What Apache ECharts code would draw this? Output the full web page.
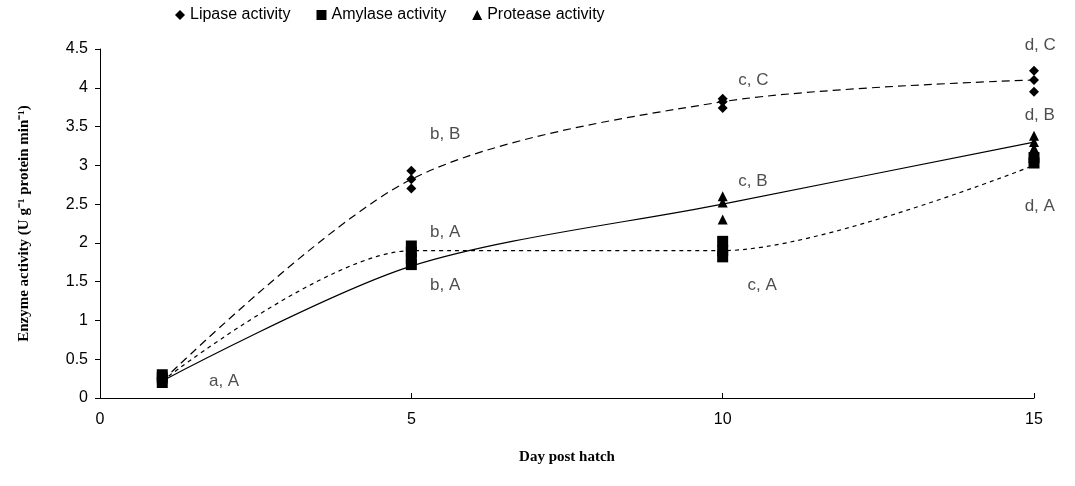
<!DOCTYPE html>
<html>
<head><meta charset="utf-8"></head>
<body style="margin:0">
<div id="container" style="width:1075px;height:486px"></div>
<script src="https://cdn.jsdelivr.net/npm/echarts@6/dist/echarts.min.js"></script>
<script>
var days = [1, 5, 10, 15];

// trend values (means) per day
var lipaseMean = [0.22, 2.82, 3.82, 4.1];
var amylaseMean = [0.22, 1.9, 1.9, 3.0];
var proteaseMean = [0.22, 1.7, 2.5, 3.3];

// replicate measurements [day, value]
var lipaseReps = [[1,0.2],[1,0.26],[1,0.3],[5,2.7],[5,2.82],[5,2.93],[10,3.74],[10,3.82],[10,3.86],[15,3.95],[15,4.1],[15,4.22]];
var amylaseReps = [[1,0.2],[1,0.26],[1,0.3],[5,1.72],[5,1.8],[5,1.88],[5,1.96],[10,1.82],[10,1.9],[10,2.02],[15,3.03],[15,3.1]];
var proteaseReps = [[1,0.2],[1,0.25],[10,2.3],[10,2.52],[10,2.6],[15,3.22],[15,3.3],[15,3.38]];

var letters = [
  [1.75, 0.22, 'a, A'],
  [5.3, 3.4, 'b, B'],
  [5.3, 2.13, 'b, A'],
  [5.3, 1.45, 'b, A'],
  [10.25, 4.1, 'c, C'],
  [10.25, 2.8, 'c, B'],
  [10.4, 1.45, 'c, A'],
  [14.85, 4.55, 'd, C'],
  [14.85, 3.65, 'd, B'],
  [14.85, 2.47, 'd, A']
];

function meanLine(vals, dash) {
  return {
    type: 'line', smooth: 0.3, symbol: 'none', silent: true,
    data: days.map(function (d, i) { return [d, vals[i]]; }),
    lineStyle: {color: '#000', width: 1.2, type: dash}
  };
}

var myChart = echarts.init(document.getElementById('container'));
var option = {
  animation: false,
  textStyle: {fontFamily: 'Liberation Sans'},
  legend: {
    top: 2, left: 170, itemGap: 26, itemWidth: 10, itemHeight: 10,
    textStyle: {fontSize: 16, color: '#000', fontFamily: 'Liberation Sans'},
    data: ['Lipase activity', 'Amylase activity', 'Protease activity']
  },
  grid: {left: 100, right: 41, top: 49, bottom: 88},
  xAxis: {
    type: 'value', min: 0, max: 15, interval: 5,
    name: 'Day post hatch', nameLocation: 'middle', nameGap: 52,
    nameTextStyle: {fontFamily: 'Liberation Serif', fontWeight: 'bold', fontSize: 15, color: '#000'},
    axisLine: {lineStyle: {color: '#000'}},
    axisTick: {inside: true, length: 5, lineStyle: {color: '#000'}},
    axisLabel: {fontSize: 16, color: '#000', margin: 14},
    splitLine: {show: false}
  },
  yAxis: {
    type: 'value', min: 0, max: 4.5, interval: 0.5,
    name: 'Enzyme activity (U g\u207B\u00B9 protein min\u207B\u00B9)', nameLocation: 'middle', nameGap: 68,
    nameTextStyle: {fontFamily: 'Liberation Serif', fontWeight: 'bold', fontSize: 15, color: '#000'},
    axisLine: {show: true, lineStyle: {color: '#000'}},
    axisTick: {show: true, length: 5, lineStyle: {color: '#000'}},
    axisLabel: {fontSize: 16, color: '#000', margin: 12},
    splitLine: {show: false}
  },
  series: [
    meanLine(lipaseMean, [8, 5]),
    meanLine(amylaseMean, [4, 4]),
    meanLine(proteaseMean, 'solid'),
    {name: 'Lipase activity', type: 'scatter', symbol: 'diamond', symbolSize: 10, itemStyle: {color: '#000', opacity: 1}, data: lipaseReps},
    {name: 'Amylase activity', type: 'scatter', symbol: 'rect', symbolSize: 11, itemStyle: {color: '#000', opacity: 1}, data: amylaseReps},
    {name: 'Protease activity', type: 'scatter', symbol: 'triangle', symbolSize: 10, itemStyle: {color: '#000', opacity: 1}, data: proteaseReps},
    {
      type: 'scatter', symbolSize: 0, silent: true, clip: false,
      data: letters.map(function (l) { return [l[0], l[1], l[2]]; }),
      label: {show: true, position: 'right', distance: 0, fontSize: 17, color: '#222',
        formatter: function (p) { return p.data[2]; }}
    }
  ]
};
myChart.setOption(option);
</script>
</body>
</html>
